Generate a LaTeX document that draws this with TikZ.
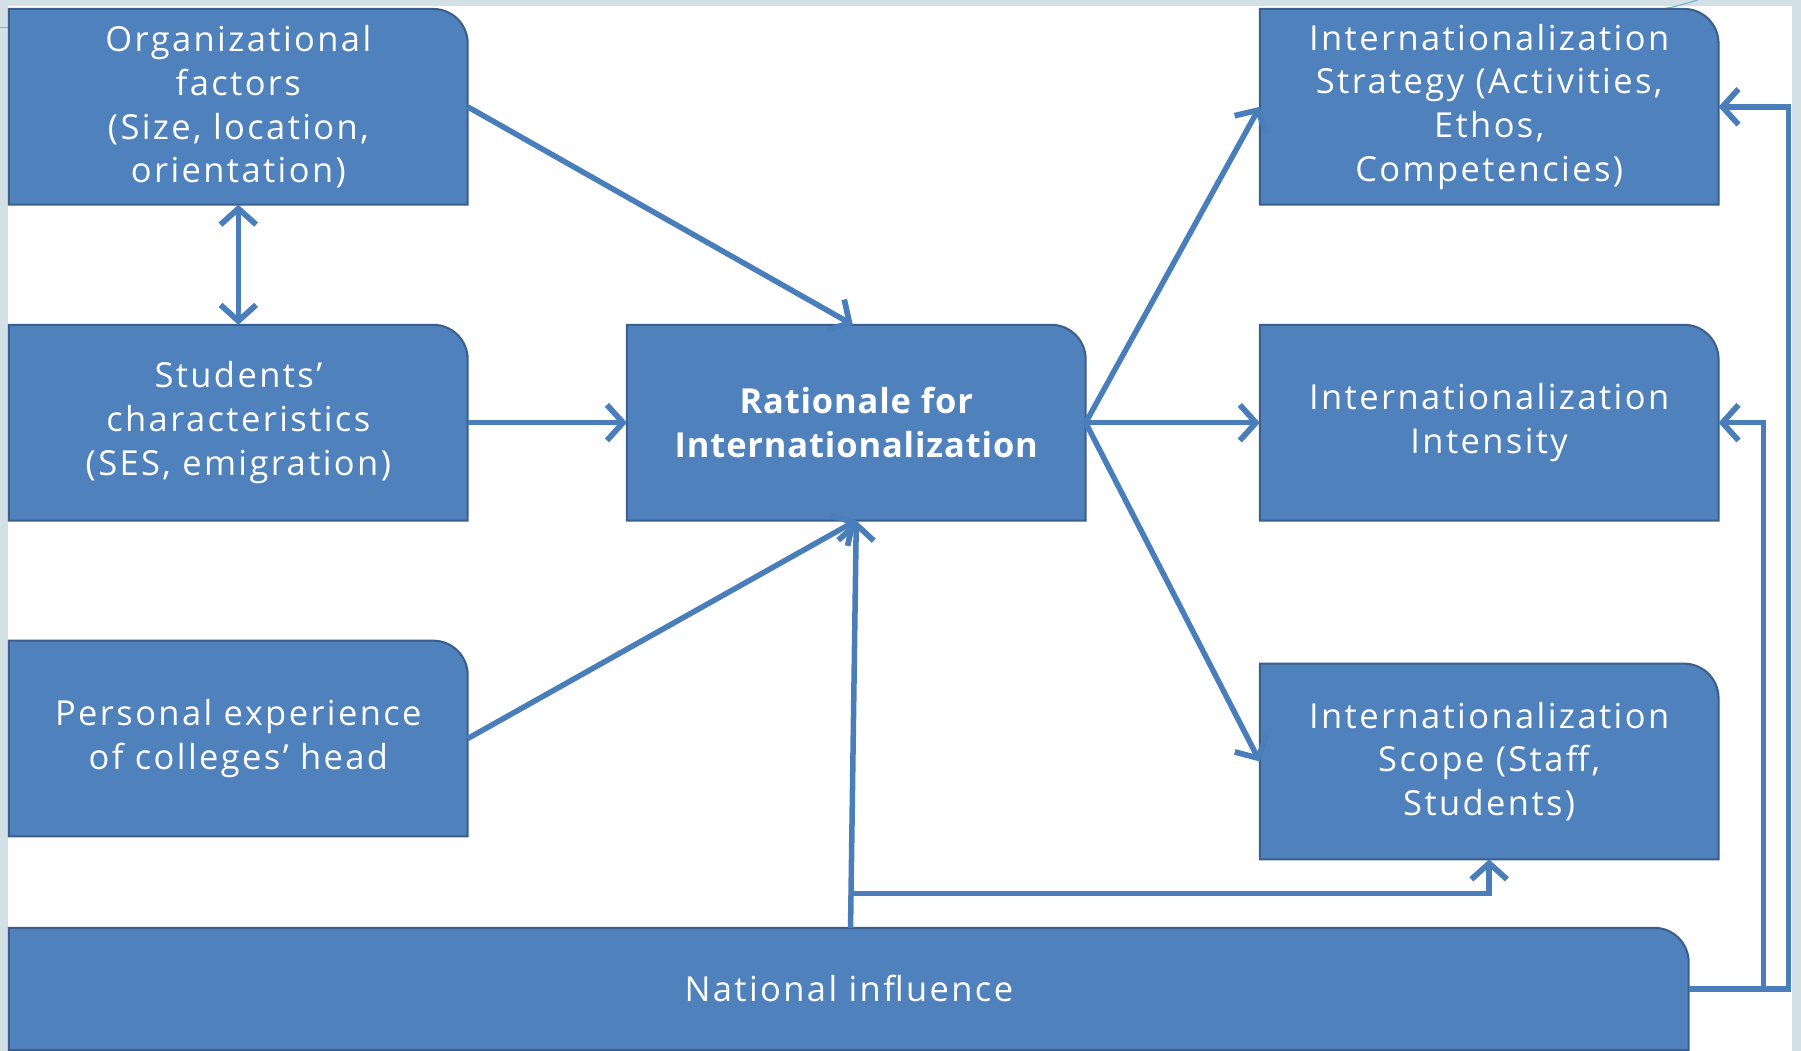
\documentclass[tikz,border=0pt]{standalone}
\usepackage{fontspec}
\setmainfont{Open Sans}[LetterSpace=7, BoldFeatures={LetterSpace=2.5}]
\usetikzlibrary{arrows.meta,backgrounds}
\definecolor{boxblue}{HTML}{4F81BD}
\definecolor{boxedge}{HTML}{3A5F8C}
\definecolor{linkblue}{HTML}{4A7EBB}
\definecolor{slidebg}{HTML}{D3E0E5}
\definecolor{slideteal}{HTML}{6FB7C4}
\pgfdeclarelayer{back}
\pgfsetlayers{back,background,main}
\tikzset{
    factor/.style={text=white, align=center, inner sep=0pt,
        font=\fontsize{30}{38}\selectfont,
        minimum width=399pt, minimum height=170pt,
        append after command={\pgfextra{\begin{pgfonlayer}{background}
            \filldraw[fill=boxblue, draw=boxedge, line width=1.8pt]
                (\tikzlastnode.south west) -- (\tikzlastnode.north west)
                -- ([xshift=-30pt]\tikzlastnode.north east)
                arc[start angle=90, end angle=0, radius=30pt]
                -- (\tikzlastnode.south east) -- cycle;
            \end{pgfonlayer}}}},
    barb/.tip={Straight Barb[length=14pt,width=31pt,line width=5pt]},
    link/.style={draw=linkblue, line width=4.8pt, -barb},
    twoway/.style={link, barb-barb},
}
\begin{document}
\begin{tikzpicture}[x=1pt,y=-1pt]
    \useasboundingbox (0,0) rectangle (1568,915);
    \begin{pgfonlayer}{back}
        \fill[slidebg] (0,0) rectangle (1568,915);
        \fill[white] (7,5) rectangle (1560,915);
        \draw[slideteal, line width=1pt] (0,24) -- (40,24);
        \draw[slideteal, line width=1pt] (1440,9) .. controls (1458,6) .. (1478,0);
    \end{pgfonlayer}

    % left column
    \node[factor] (org) at (207.5,93)
        {Organizational\\factors\\(Size, location,\\orientation)};
    \node[factor] (stud) at (207.5,368)
        {Students'\\characteristics\\(SES, emigration)};
    \node[factor] (pers) at (207.5,643)
        {Personal experience\\of colleges' head};

    % centre
    \node[factor, font=\fontsize{30}{38}\selectfont\bfseries] (rat) at (745.5,368)
        {Rationale for\\Internationalization};

    % right column
    \node[factor] (strat) at (1296.5,93)
        {Internationalization\\Strategy (Activities,\\Ethos,\\Competencies)};
    \node[factor] (inten) at (1296.5,368)
        {Internationalization\\Intensity};
    \node[factor] (scope) at (1296.5,663)
        {Internationalization\\Scope (Staff,\\Students)};

    % bottom
    \node[factor, minimum width=1462pt, minimum height=106pt] (nat) at (739,861)
        {National influence};

    \draw[link] (org.east) -- ([xshift=-3pt]rat.north);
    \draw[twoway] (org.south) -- (stud.north);
    \draw[link] (stud.east) -- (rat.west);
    \draw[link] (pers.east) -- (rat.south);
    \draw[link] ([xshift=-5pt]rat.south |- nat.north) -- (rat.south);
    \draw[link] ([xshift=-5pt,yshift=30pt]rat.south |- nat.north) -| (scope.south);

    \draw[link] (rat.east) -- (strat.west);
    \draw[link] (rat.east) -- (inten.west);
    \draw[link] (rat.east) -- (scope.west);

    \draw[link] (nat.east) -- ++(87,0) |- (strat.east);
    \draw[link] (nat.east) -- ++(65,0) |- (inten.east);
\end{tikzpicture}
\end{document}
